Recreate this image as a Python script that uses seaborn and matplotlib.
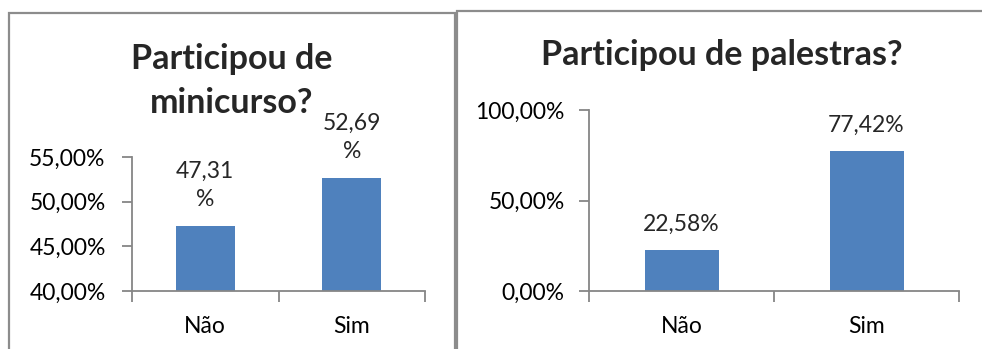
import matplotlib
matplotlib.use("Agg")
import matplotlib.pyplot as plt
from matplotlib.patches import Rectangle
import seaborn as sns
import pandas as pd

categories = ["Não", "Sim"]
minicurso_values = [47.31, 52.69]
minicurso_labels = ["47,31\n%", "52,69\n%"]
minicurso_ticks = [40, 45, 50, 55]
minicurso_ticklabels = ["40,00%", "45,00%", "50,00%", "55,00%"]
palestras_values = [22.58, 77.42]
palestras_labels = ["22,58%", "77,42%"]
palestras_ticks = [0, 50, 100]
palestras_ticklabels = ["0,00%", "50,00%", "100,00%"]

sns.set_style("white")
plt.rcParams['font.family'] = ['Lato', 'DejaVu Sans']

W, H = 982, 349
fig = plt.figure(figsize=(W / 100, H / 100), dpi=100)
fig.patch.set_facecolor("white")

BAR = "#4F81BD"
AX = "#868686"
FRAME = "#8c8c8c"
FS = 16.5

def px_axes(x0, y0, x1, y1):
    return fig.add_axes([x0 / W, 1 - y1 / H, (x1 - x0) / W, (y1 - y0) / H])

# panel frames
fig.patches.append(Rectangle((9 / W, -0.05), (455 - 9) / W, (H - 12.5) / H + 0.05,
                             transform=fig.transFigure, fill=False, edgecolor=FRAME, lw=1.6))
fig.patches.append(Rectangle((457 / W, -0.05), (990 - 457) / W, (H - 11) / H + 0.05,
                             transform=fig.transFigure, fill=False, edgecolor=FRAME, lw=1.6))

def draw(ax, values, labels, ticks, ticklabels, ylim, label_offset, ypad):
    df = pd.DataFrame({"cat": categories, "val": values})
    sns.barplot(data=df, x="cat", y="val", ax=ax, color=BAR, width=0.4,
                saturation=1, edgecolor="none")
    ax.set_ylim(*ylim)
    ax.set_xlim(-0.5, 1.5)
    ax.set_yticks(ticks)
    ax.set_yticklabels(ticklabels, fontsize=FS, color="black")
    ax.set_xticks([0, 1])
    ax.set_xticklabels(categories, fontsize=FS, color="black")
    ax.set_xlabel("")
    ax.set_ylabel("")
    for s in ["top", "right"]:
        ax.spines[s].set_visible(False)
    for s in ["left", "bottom"]:
        ax.spines[s].set_color(AX)
        ax.spines[s].set_linewidth(1.3)
    ax.tick_params(axis="y", length=7, width=1.3, color=AX, direction="out", pad=ypad, left=True)
    ax.tick_params(axis="x", length=0, pad=18, bottom=False)
    ax.set_xticks([-0.5, 0.5, 1.5], minor=True)
    ax.tick_params(axis="x", which="minor", length=8, width=1.3, color=AX, direction="out", bottom=True)
    for i, (v, lab) in enumerate(zip(values, labels)):
        ax.annotate(lab, (i, v), xytext=(0, label_offset), textcoords="offset points",
                    ha="center", va="bottom", fontsize=FS, linespacing=1.45)

ax1 = px_axes(132, 157, 425, 291)
draw(ax1, minicurso_values, minicurso_labels, minicurso_ticks, minicurso_ticklabels, (40, 55), 11, 12)
fig.text(232 / W, 1 - 113 / H, "Participou de\nminicurso?", ha="center", va="baseline",
         fontsize=24.5, fontweight="bold", linespacing=1.45)

ax2 = px_axes(589, 110, 959, 291)
draw(ax2, palestras_values, palestras_labels, palestras_ticks, palestras_ticklabels, (0, 100), 11, 10.5)
fig.text(722 / W, 1 - 65 / H, "Participou de palestras?", ha="center", va="baseline",
         fontsize=24.5, fontweight="bold")

fig.savefig("out.png", dpi=100, facecolor="white")
